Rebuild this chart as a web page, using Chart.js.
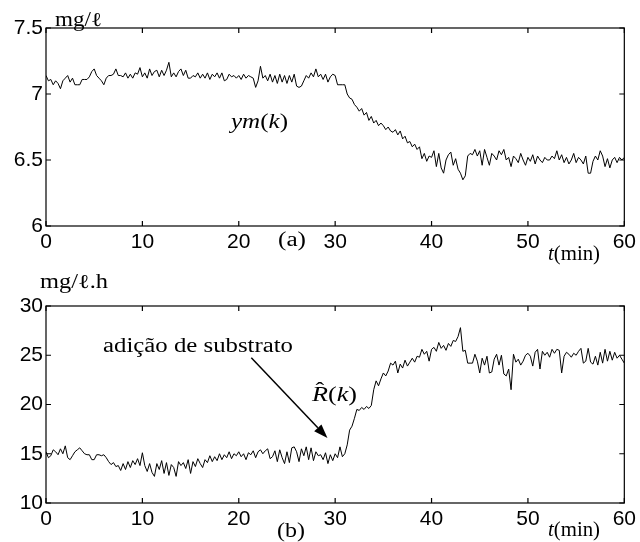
<!DOCTYPE html>
<html>
<head>
<meta charset="utf-8">
<script src="https://cdn.jsdelivr.net/npm/chart.js@4"></script>
<style>
  html, body { margin: 0; padding: 0; background: #fff; }
  #painel { position: relative; width: 640px; height: 542px; }
  canvas { position: absolute; left: 0; }
</style>
</head>
<body>
<div id="painel">
  <canvas id="grafOD" width="640" height="271" style="top:0"></canvas>
  <canvas id="grafR" width="640" height="271" style="top:271px"></canvas>
</div>
<script>
//DADOS
// amostragem a cada 0.25 min, de 0 a 60 min
const PASSO = 0.25;

// oxigenio dissolvido medido ym(k), mg/l
const ymVals = [
  7.14, 7.10, 7.11, 7.07, 7.10, 7.08, 7.04, 7.10, 7.12, 7.14, 7.09, 7.12, 7.07, 7.07, 7.07, 7.11, 7.11, 7.11, 7.13, 7.17,
  7.19, 7.14, 7.12, 7.10, 7.07, 7.12, 7.14, 7.14, 7.15, 7.19, 7.14, 7.14, 7.13, 7.16, 7.12, 7.15, 7.12, 7.16, 7.15, 7.20,
  7.13, 7.16, 7.12, 7.19, 7.14, 7.17, 7.18, 7.13, 7.18, 7.14, 7.18, 7.24, 7.13, 7.16, 7.13, 7.17, 7.19, 7.14, 7.18, 7.12,
  7.12, 7.14, 7.13, 7.16, 7.12, 7.15, 7.12, 7.16, 7.11, 7.15, 7.13, 7.16, 7.12, 7.16, 7.10, 7.11, 7.15, 7.13, 7.14, 7.12,
  7.14, 7.11, 7.15, 7.12, 7.14, 7.13, 7.12, 7.05, 7.10, 7.21, 7.12, 7.14, 7.10, 7.15, 7.09, 7.14, 7.08, 7.15, 7.09, 7.14,
  7.08, 7.14, 7.09, 7.15, 7.06, 7.05, 7.06, 7.10, 7.14, 7.12, 7.16, 7.13, 7.19, 7.13, 7.15, 7.11, 7.15, 7.09, 7.13, 7.15,
  7.14, 7.07, 7.07, 7.07, 7.07, 7.00, 6.97, 6.96, 6.92, 6.90, 6.87, 6.89, 6.84, 6.86, 6.80, 6.83, 6.78, 6.80, 6.76, 6.78,
  6.76, 6.73, 6.75, 6.72, 6.71, 6.73, 6.69, 6.72, 6.66, 6.68, 6.63, 6.64, 6.60, 6.62, 6.58, 6.60, 6.51, 6.55, 6.49, 6.53,
  6.52, 6.57, 6.45, 6.55, 6.44, 6.40, 6.50, 6.54, 6.56, 6.46, 6.51, 6.43, 6.40, 6.35, 6.38, 6.53, 6.55, 6.54, 6.58, 6.53,
  6.57, 6.46, 6.58, 6.52, 6.46, 6.55, 6.53, 6.50, 6.57, 6.54, 6.58, 6.50, 6.52, 6.45, 6.53, 6.51, 6.48, 6.55, 6.50, 6.46,
  6.52, 6.49, 6.54, 6.47, 6.53, 6.50, 6.48, 6.52, 6.50, 6.50, 6.53, 6.51, 6.57, 6.50, 6.54, 6.48, 6.52, 6.47, 6.50, 6.55,
  6.48, 6.52, 6.50, 6.47, 6.53, 6.40, 6.40, 6.49, 6.53, 6.50, 6.57, 6.53, 6.45, 6.51, 6.44, 6.50, 6.52, 6.48, 6.52, 6.50,
  6.52
];

// taxa estimada R^(k), mg/l.h
const rVals = [
  15.2, 14.6, 14.8, 15.4, 15.2, 14.9, 15.5, 15.0, 15.8, 14.6, 14.4, 14.8, 15.2, 15.4, 15.6, 15.3, 15.0, 14.9, 14.9, 14.4,
  14.4, 14.9, 14.9, 14.8, 14.9, 14.6, 14.2, 13.9, 14.1, 13.7, 13.8, 13.3, 14.0, 13.4, 14.2, 13.6, 14.3, 13.9, 14.5, 13.8,
  15.1, 13.8, 13.2, 14.0, 13.1, 12.7, 14.0, 13.4, 14.3, 13.0, 14.1, 12.8, 13.9, 13.6, 12.7, 14.2, 13.8, 14.1, 13.5, 14.4,
  13.0, 14.2, 13.7, 14.5, 14.0, 13.6, 14.4, 14.1, 14.8, 14.2, 14.7, 14.3, 15.0, 14.4, 14.9, 14.6, 15.2, 14.5, 15.0, 14.8,
  15.2, 14.7, 15.0, 14.4, 15.1, 14.9, 15.3, 14.6, 15.2, 15.4, 15.0, 15.3, 15.5, 14.5, 14.7, 15.3, 14.2, 15.4, 14.6, 14.0,
  15.2, 14.1, 15.6, 15.7, 15.2, 14.2, 15.5, 14.8, 15.7, 14.4, 15.6, 14.3, 15.2, 14.8, 14.9, 14.4, 15.1, 14.0, 14.9, 14.3,
  15.0, 14.6, 15.7, 14.7, 15.0, 15.9, 17.4, 17.8, 18.6, 19.5, 19.4, 19.7, 19.5, 19.8, 19.6, 19.9, 21.5, 22.4, 21.9, 22.6,
  23.2, 22.9, 23.4, 24.2, 24.0, 24.4, 23.2, 24.1, 23.7, 24.5, 23.9, 24.3, 24.7, 24.3, 24.9, 24.8, 25.6, 25.1, 25.4, 24.4,
  25.6, 25.8, 25.4, 26.3, 25.7, 26.0, 25.5, 26.2, 25.9, 26.5, 26.4, 26.9, 27.8, 25.4, 25.5, 24.2, 24.2, 24.2, 25.1, 24.4,
  23.2, 24.7, 24.0, 24.9, 23.2, 23.3, 24.6, 25.1, 24.0, 25.0, 23.1, 22.9, 23.6, 21.5, 25.1, 24.3, 24.6, 24.0, 24.4, 25.0,
  25.2, 24.9, 23.9, 25.3, 25.6, 23.6, 25.4, 25.0, 25.3, 24.8, 25.6, 25.2, 25.6, 25.5, 23.2, 24.9, 25.3, 25.1, 24.8, 25.2,
  25.0, 25.4, 25.7, 24.2, 24.4, 25.7, 24.3, 24.1, 24.9, 24.0, 25.3, 24.2, 25.6, 24.4, 25.4, 24.5, 25.3, 24.7, 25.0, 24.6,
  24.2
];

// limites dos eixos [min, max, passo]
const eixoT = [0, 60, 10];
const eixoOD = [6, 7.5, 0.5];
const eixoR = [10, 30, 5];

// seta "adicao de substrato": origem e ponta em (t, R)
const setaDe = [21.3, 24.75];
const setaPara = [29.2, 16.6];

//FUNCOES
const SERIF = '"Liberation Serif", "Times New Roman", serif';
const SANS = '"Liberation Sans", Arial, sans-serif';

function pontos(vals) {
  return vals.map((v, i) => ({ x: i * PASSO, y: v }));
}

// escreve um texto em partes (italico ou nao), esticado ate a largura pedida
function escreve(ctx, n) {
  ctx.save();
  ctx.fillStyle = '#000';
  ctx.textBaseline = 'alphabetic';
  let larg = 0;
  n.partes.forEach((p) => {
    ctx.font = (p.it ? 'italic ' : '') + n.tam + 'px ' + SERIF;
    larg += ctx.measureText(p.txt).width;
  });
  const sx = n.larg ? n.larg / larg : 1;
  ctx.translate(n.x, n.y);
  ctx.scale(sx, 1);
  let cx = 0;
  n.partes.forEach((p) => {
    ctx.font = (p.it ? 'italic ' : '') + n.tam + 'px ' + SERIF;
    const w = ctx.measureText(p.txt).width;
    ctx.fillText(p.txt, cx, 0);
    if (p.chapeu) {
      ctx.font = n.tam + 'px ' + SERIF;
      ctx.fillText('\u02C6', cx + w * 0.22, -n.tam * 0.2);
    }
    cx += w;
  });
  ctx.restore();
}

// caixa fechada com marcas para dentro nos quatro lados
const moldura = {
  id: 'moldura',
  afterDraw(chart) {
    const { ctx, chartArea: a, scales } = chart;
    const tam = 5;
    ctx.save();
    ctx.strokeStyle = '#000';
    ctx.lineWidth = 1.2;
    ctx.strokeRect(a.left, a.top, a.right - a.left, a.bottom - a.top);
    ctx.beginPath();
    scales.x.ticks.forEach((t) => {
      const px = scales.x.getPixelForValue(t.value);
      ctx.moveTo(px, a.bottom); ctx.lineTo(px, a.bottom - tam);
      ctx.moveTo(px, a.top); ctx.lineTo(px, a.top + tam);
    });
    scales.y.ticks.forEach((t) => {
      const py = scales.y.getPixelForValue(t.value);
      ctx.moveTo(a.left, py); ctx.lineTo(a.left + tam, py);
      ctx.moveTo(a.right, py); ctx.lineTo(a.right - tam, py);
    });
    ctx.stroke();
    ctx.restore();
  }
};

function notas(lista, seta) {
  return {
    id: 'notas',
    afterDraw(chart) {
      const ctx = chart.ctx;
      lista.forEach((n) => escreve(ctx, n));
      if (seta) {
        const { x, y } = chart.scales;
        const x0 = x.getPixelForValue(seta[0][0]), y0 = y.getPixelForValue(seta[0][1]);
        const x1 = x.getPixelForValue(seta[1][0]), y1 = y.getPixelForValue(seta[1][1]);
        const ang = Math.atan2(y1 - y0, x1 - x0);
        const cab = 14, meia = 5;
        const bx = x1 - cab * Math.cos(ang), by = y1 - cab * Math.sin(ang);
        ctx.save();
        ctx.strokeStyle = '#000';
        ctx.fillStyle = '#000';
        ctx.lineWidth = 1.5;
        ctx.beginPath();
        ctx.moveTo(x0, y0);
        ctx.lineTo(bx, by);
        ctx.stroke();
        ctx.beginPath();
        ctx.moveTo(x1, y1);
        ctx.lineTo(bx + meia * Math.sin(ang), by - meia * Math.cos(ang));
        ctx.lineTo(bx - meia * Math.sin(ang), by + meia * Math.cos(ang));
        ctx.closePath();
        ctx.fill();
        ctx.restore();
      }
    }
  };
}

function config(vals, eixoY, padding, plugins) {
  return {
    type: 'line',
    data: {
      datasets: [{
        data: pontos(vals),
        borderColor: '#000',
        borderWidth: 1,
        pointRadius: 0,
        tension: 0,
        fill: false,
      }],
    },
    plugins: plugins,
    options: {
      responsive: false,
      animation: false,
      layout: { padding: padding },
      plugins: { legend: { display: false }, tooltip: { enabled: false } },
      scales: {
        x: {
          type: 'linear',
          min: eixoT[0], max: eixoT[1],
          afterFit: (s) => { s.height = 30; },
          grid: { display: false, drawTicks: false },
          border: { display: false },
          ticks: { stepSize: eixoT[2], color: '#000', padding: 4, maxRotation: 0,
                   callback: (v) => String(v),
                   font: { family: SANS, size: 21 } },
        },
        y: {
          min: eixoY[0], max: eixoY[1],
          afterFit: (s) => { s.width = 46; },
          grid: { display: false, drawTicks: false },
          border: { display: false },
          ticks: { stepSize: eixoY[2], color: '#000', padding: 3,
                   callback: (v) => String(v),
                   font: { family: SANS, size: 21 } },
        },
      },
    },
  };
}

//GRAFICOS
const notasOD = [
  { x: 55, y: 26, tam: 20, larg: 47, partes: [{ txt: 'mg/\u2113' }] },
  { x: 231, y: 128, tam: 20, larg: 57, partes: [{ txt: 'ym', it: true }, { txt: '(' }, { txt: 'k', it: true }, { txt: ')' }] },
  { x: 278, y: 246, tam: 20, larg: 28, partes: [{ txt: '(a)' }] },
  { x: 548, y: 260, tam: 20, larg: 52, partes: [{ txt: 't', it: true }, { txt: '(min)' }] },
];

const notasR = [
  { x: 40, y: 288 - 271, tam: 20, larg: 68, partes: [{ txt: 'mg/\u2113.h' }] },
  { x: 103, y: 352 - 271, tam: 20, larg: 190, partes: [{ txt: 'adição de substrato' }] },
  { x: 312, y: 401 - 271, tam: 22, larg: 45, partes: [{ txt: 'R', it: true, chapeu: true }, { txt: '(' }, { txt: 'k', it: true }, { txt: ')' }] },
  { x: 277, y: 537 - 271, tam: 20, larg: 28, partes: [{ txt: '(b)' }] },
  { x: 548, y: 536 - 271, tam: 20, larg: 52, partes: [{ txt: 't', it: true }, { txt: '(min)' }] },
];

new Chart(document.getElementById('grafOD'),
  config(ymVals, eixoOD, { left: 0, right: 14, top: 28, bottom: 15 }, [moldura, notas(notasOD)]));

new Chart(document.getElementById('grafR'),
  config(rVals, eixoR, { left: 0, right: 14, top: 35, bottom: 9 }, [moldura, notas(notasR, [setaDe, setaPara])]));
</script>
</body>
</html>
